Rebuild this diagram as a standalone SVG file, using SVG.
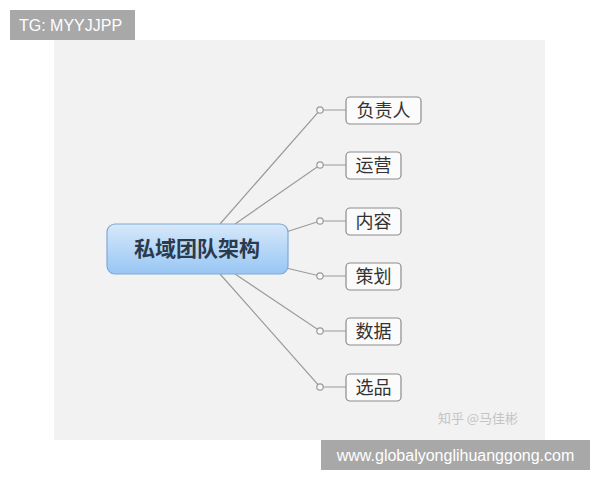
<svg xmlns="http://www.w3.org/2000/svg" width="600" height="480" viewBox="0 0 600 480">
<defs>
<linearGradient id="g" x1="0" y1="0" x2="0" y2="1">
<stop offset="0" stop-color="#d6e8fb"/>
<stop offset="1" stop-color="#98c6f3"/>
</linearGradient>
<style>
.c{fill:#f7f7f7;stroke:#9a9a9a;stroke-width:1.2}
.n{fill:#fbfbfb;stroke:#8c8c8c;stroke-width:1.2}
.t{font-family:"Noto Sans CJK SC","Noto Sans",serif;font-size:18px;fill:#333;text-anchor:middle}
.l{stroke:#9a9a9a;stroke-width:1.2;fill:none}
.w{font-family:"Liberation Sans",Arial,sans-serif;font-size:16px;fill:#fff}
</style>
</defs>
<rect width="600" height="480" fill="#fff"/>
<rect x="54" y="40" width="491" height="400" fill="#f2f2f2"/>
<g id="connectors">
<path class="l" d="M220 224 L320 110 H346"/>
<path class="l" d="M235 224 L320 165 H346"/>
<path class="l" d="M286 232 L320 221 H346"/>
<path class="l" d="M286 268 L320 276 H346"/>
<path class="l" d="M235 274 L320 331 H346"/>
<path class="l" d="M220 274 L320 387 H346"/>
<circle class="c" cx="320" cy="110" r="3.2"/>
<circle class="c" cx="320" cy="165" r="3.2"/>
<circle class="c" cx="320" cy="221" r="3.2"/>
<circle class="c" cx="320" cy="276" r="3.2"/>
<circle class="c" cx="320" cy="331" r="3.2"/>
<circle class="c" cx="320" cy="387" r="3.2"/>
</g>
<g id="root">
<rect x="107" y="224" width="181" height="50" rx="8" fill="url(#g)" stroke="#7fa9d6" stroke-width="1.2"/>
<text x="197" y="256" font-family="'Noto Sans CJK SC',serif" font-size="21" font-weight="bold" fill="#2c3a4e" text-anchor="middle">私域团队架构</text>
</g>
<g id="n1"><rect class="n" x="346" y="97" width="75" height="27" rx="4"/><text class="t" x="383.5" y="117">负责人</text></g>
<g id="n2"><rect class="n" x="346" y="152" width="55" height="27" rx="4"/><text class="t" x="373.5" y="172">运营</text></g>
<g id="n3"><rect class="n" x="346" y="208" width="55" height="27" rx="4"/><text class="t" x="373.5" y="228">内容</text></g>
<g id="n4"><rect class="n" x="346" y="263" width="55" height="27" rx="4"/><text class="t" x="373.5" y="283">策划</text></g>
<g id="n5"><rect class="n" x="346" y="318" width="55" height="27" rx="4"/><text class="t" x="373.5" y="338">数据</text></g>
<g id="n6"><rect class="n" x="346" y="374" width="55" height="27" rx="4"/><text class="t" x="373.5" y="394">选品</text></g>
<text x="478" y="423" font-family="'Noto Sans CJK SC',sans-serif" font-size="13" fill="#c4c4c4" text-anchor="middle">知乎 @马佳彬</text>
<rect x="10" y="10" width="125" height="30" fill="#a8a8a8"/>
<text class="w" x="19" y="31">TG: MYYJJPP</text>
<rect x="321" y="440" width="269" height="30" fill="#a8a8a8"/>
<text class="w" x="455.5" y="461" text-anchor="middle" font-size="16.5">www.globalyonglihuanggong.com</text>
</svg>
